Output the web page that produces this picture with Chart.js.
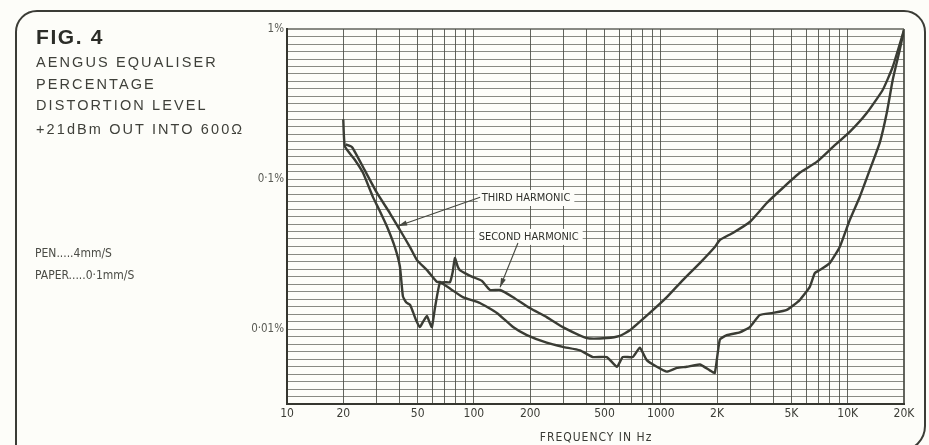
<!DOCTYPE html>
<html>
<head>
<meta charset="utf-8">
<script src="https://cdn.jsdelivr.net/npm/chart.js@4/dist/chart.umd.min.js"></script>
<style>
html,body{margin:0;padding:0;background:#fdfdf9;width:929px;height:445px;overflow:hidden;}
#wrap{position:relative;width:929px;height:445px;}
#c{position:absolute;left:0;top:0;}
.frame{position:absolute;left:15px;top:10px;width:911px;height:442px;border:2px solid #3b3c36;border-radius:22px 22px 26px 0;box-sizing:border-box;}
.t{position:absolute;white-space:nowrap;color:#3f403a;font-family:'Liberation Sans',Arial,sans-serif;line-height:1;}
.fig{font-size:21px;font-weight:bold;letter-spacing:1.6px;color:#2c2d28;}
.sub{font-size:14.5px;letter-spacing:2.1px;}
.small{font-family:'DejaVu Sans Condensed','DejaVu Sans',sans-serif;font-size:12px;color:#4a4b45;}
</style>
</head>
<body>
<div id="wrap">
<canvas id="c" width="929" height="445"></canvas>
<div class="frame"></div>
<div class="t fig" style="left:36px;top:26px;">FIG. 4</div>
<div class="t sub" style="left:36px;top:55px;">AENGUS EQUALISER</div>
<div class="t sub" style="left:36px;top:77px;">PERCENTAGE</div>
<div class="t sub" style="left:36px;top:98px;">DISTORTION LEVEL</div>
<div class="t sub" style="left:36px;top:122px;">+21dBm OUT INTO 600Ω</div>
<div class="t small" style="left:35px;top:247px;">PEN.....4mm/S</div>
<div class="t small" style="left:35px;top:269px;">PAPER.....0·1mm/S</div>
<div class="t small" style="left:596px;top:431px;transform:translateX(-50%);letter-spacing:1px;color:#3a3b35;">FREQUENCY IN Hz</div>
</div>
<script>
// ---- data (frequency in Hz, distortion in %) ----
const secondFreq = [20,20.4,23,25.5,28.8,31,34.3,37.8,40.2,41.7,43.5,45.5,47.2,49,51.4,53.5,56.1,58,59.6,62,65.7,70,74.4,77,79.1,82,84.1,90,98.8,110,122,138,162,199,245,299,402,514,604,683,873,1077,1312,1617,1945,2069,2427,2992,3690,4490,5535,6825,8310,10250,12640,15380,17400,20000];
const secondPct  = [0.25,0.165,0.135,0.11,0.076,0.063,0.048,0.035,0.026,0.0165,0.015,0.0145,0.013,0.0115,0.0103,0.0112,0.0122,0.011,0.0103,0.014,0.0203,0.0205,0.0205,0.024,0.0297,0.026,0.0247,0.0235,0.0222,0.021,0.0182,0.0182,0.0163,0.0138,0.012,0.0103,0.0087,0.0087,0.009,0.0098,0.0128,0.0163,0.0212,0.0275,0.0352,0.0392,0.0437,0.0517,0.0692,0.0871,0.11,0.13,0.163,0.206,0.275,0.392,0.558,0.985];
const thirdFreq  = [20.6,22.3,26,30.3,35.5,40.2,45.5,49.6,56.1,63.4,65.7,75,87.3,107.7,132.7,162,192,245,299,369,433,514,582,626,708,772,841,952,1077,1218,1377,1617,1828,1945,2069,2254,2645,2992,3383,3972,4720,5535,6265,6665,7080,8010,9060,10250,11590,13120,14830,16170,17400,18970,20000];
const thirdPct   = [0.17,0.163,0.115,0.0807,0.0593,0.0457,0.0352,0.0288,0.0247,0.0206,0.0206,0.0185,0.0163,0.0149,0.0128,0.0103,0.0091,0.0081,0.0076,0.0072,0.0065,0.0065,0.0056,0.0065,0.0065,0.0075,0.0062,0.0056,0.0052,0.0055,0.0056,0.0058,0.0053,0.0051,0.0085,0.0091,0.0095,0.0103,0.0124,0.0128,0.0134,0.0156,0.0191,0.0236,0.0247,0.0275,0.0352,0.0533,0.0759,0.115,0.174,0.275,0.457,0.724,0.985];

// ---- ticks ----
const xTickValues = [10,20,30,40,50,60,70,80,90,100,200,300,400,500,600,700,800,900,1000,2000,3000,4000,5000,6000,7000,8000,9000,10000,20000];
const xTickLabels = {10:'10',20:'20',50:'50',100:'100',200:'200',500:'500',1000:'1000',2000:'2K',5000:'5K',10000:'10K',20000:'20K'};
const yGridDb = Array.from({length:51},(_,k)=>-k);   // chart paper: 1 dB per line
const yTickLabels = {'0':'1%','-20':'0·1%','-40':'0·01%'};

// ---- annotations (data space) ----
const notes = [
  {text:'THIRD HARMONIC',  at:[110,0.0747], tail:[108,0.0755], head:[39.3,0.0486]},
  {text:'SECOND HARMONIC', at:[106,0.0411], tail:[172,0.0374], head:[138,0.019]}
];

const ink = '#3a3c34';
const condensed = '"DejaVu Sans Condensed","DejaVu Sans",sans-serif';

const annotPlugin = {
  id:'annot',
  afterDatasetsDraw(chart){
    const {ctx, scales:{x,y}} = chart;
    ctx.save();
    notes.forEach(n=>{
      ctx.font = '11px ' + condensed;
      ctx.letterSpacing = '0px';
      const lx = x.getPixelForValue(n.at[0]), ly = y.getPixelForValue(n.at[1]);
      const w = ctx.measureText(n.text).width;
      ctx.fillStyle = '#fdfdf9';
      ctx.fillRect(lx-4, ly-8, w+8, 16);
      ctx.fillStyle = '#2f302b';
      ctx.textBaseline = 'middle';
      ctx.fillText(n.text, lx, ly+0.5);
      const tx=x.getPixelForValue(n.tail[0]), ty=y.getPixelForValue(n.tail[1]);
      const hx=x.getPixelForValue(n.head[0]), hy=y.getPixelForValue(n.head[1]);
      ctx.strokeStyle = '#45473f'; ctx.lineWidth = 1.1;
      ctx.beginPath(); ctx.moveTo(tx,ty); ctx.lineTo(hx,hy); ctx.stroke();
      const a=Math.atan2(hy-ty,hx-tx), L=9, W=2.6;
      ctx.fillStyle = '#45473f';
      ctx.beginPath(); ctx.moveTo(hx,hy);
      ctx.lineTo(hx-L*Math.cos(a)+W*Math.sin(a), hy-L*Math.sin(a)-W*Math.cos(a));
      ctx.lineTo(hx-L*Math.cos(a)-W*Math.sin(a), hy-L*Math.sin(a)+W*Math.cos(a));
      ctx.closePath(); ctx.fill();
    });
    ctx.restore();
  }
};

const toPts = (f,p)=>f.map((v,i)=>({x:v,y:p[i]}));

new Chart(document.getElementById('c'), {
  type:'line',
  data:{datasets:[
    {label:'Second harmonic', data:toPts(secondFreq,secondPct), borderColor:ink, borderWidth:2.4, pointRadius:0, tension:0.15, fill:false},
    {label:'Third harmonic',  data:toPts(thirdFreq,thirdPct),   borderColor:ink, borderWidth:2.4, pointRadius:0, tension:0.15, fill:false}
  ]},
  options:{
    responsive:false, animation:false,
    layout:{padding:{left:0,right:25,top:29,bottom:0}},
    plugins:{legend:{display:false}, tooltip:{enabled:false}},
    scales:{
      x:{
        type:'logarithmic', min:10, max:20000,
        afterBuildTicks:s=>{ s.ticks = xTickValues.map(v=>({value:v})); },
        afterFit:s=>{ s.height = 41; },
        ticks:{autoSkip:false, maxRotation:0, padding:3, color:'#3c3d37',
          font:{family:condensed, size:12},
          callback:(v)=>xTickLabels[v] || ''},
        grid:{drawTicks:false, color:'rgba(60,62,55,0.8)',
          lineWidth:c=> (c.tick && c.tick.value===20000) ? 2 : 1},
        border:{display:true, color:'#35362f', width:2}
      },
      y:{
        type:'logarithmic', min:Math.pow(10,-2.5), max:1,
        afterBuildTicks:s=>{ s.ticks = yGridDb.map(d=>({value:Math.pow(10,d/20)})); },
        afterFit:s=>{ s.width = 287; },
        ticks:{autoSkip:false, padding:3, color:'#5a5b55',
          font:{family:condensed, size:11.5},
          callback:(v,i)=>yTickLabels[String(yGridDb[i])] || ''},
        grid:{drawTicks:false, color:'rgba(75,77,68,0.65)',
          lineWidth:c=> (c.index===0) ? 2 : 1},
        border:{display:true, color:'#35362f', width:2}
      }
    }
  },
  plugins:[annotPlugin]
});
</script>
</body>
</html>
